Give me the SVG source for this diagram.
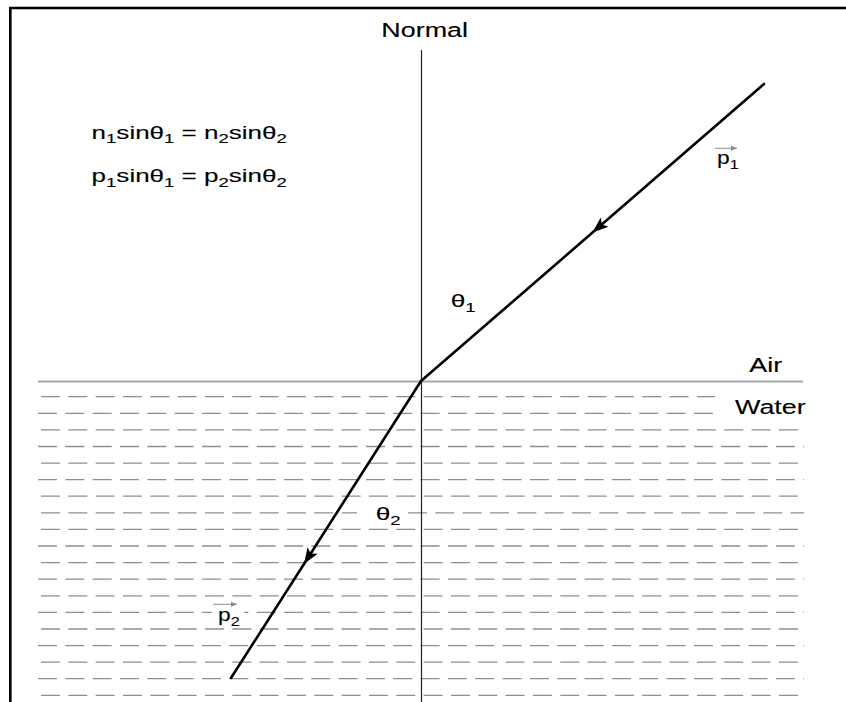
<svg xmlns="http://www.w3.org/2000/svg" width="846" height="702" viewBox="0 0 846 702">
<defs>
<style>
text{font-family:"Liberation Sans",Arial,sans-serif;fill:#000;stroke:#000;stroke-width:0.12}
.t{font-size:19.5px}
.eq{font-size:19px}
.lb{font-size:19px}
.pl{font-size:19px}
.sb{font-size:13.5px}
.row{stroke:#8e8e8e;stroke-width:1.3;stroke-dasharray:19 8.33;fill:none}
.ray{stroke:#000;stroke-width:2.6;fill:none;stroke-linecap:round;marker-mid:url(#ah)}
.vec{stroke:#8a8a8a;stroke-width:1;fill:none;marker-end:url(#sa)}
</style>
<marker id="ah" viewBox="-17 -7 18 14" refX="0" refY="0" markerWidth="18" markerHeight="14" markerUnits="userSpaceOnUse" orient="auto">
<path d="M0,0 L-16,-6 L-12.5,0 L-16,6 Z" fill="#000"/>
</marker>
<marker id="sa" viewBox="-7 -3 8 6" refX="0" refY="0" markerWidth="8" markerHeight="6" markerUnits="userSpaceOnUse" orient="auto">
<path d="M0,0 L-6,-2.5 L-6,2.5 Z" fill="#8a8a8a"/>
</marker>
</defs>
<rect width="846" height="702" fill="#fff"/>
<g id="frame"><path d="M10.3,702 V8 H846" stroke="#000" stroke-width="2.6" fill="none"/></g>
<g id="water">
<line x1="38" y1="381.5" x2="803" y2="381.5" stroke="#a8a8a8" stroke-width="2"/>
<line class="row" x1="41" y1="396.7" x2="715" y2="396.7"/>
<line class="row" x1="38" y1="413.3" x2="714" y2="413.3"/>
<line class="row" x1="41" y1="429.9" x2="804" y2="429.9"/>
<line class="row" x1="38" y1="446.5" x2="804" y2="446.5"/>
<line class="row" x1="41" y1="463.1" x2="804" y2="463.1"/>
<line class="row" x1="38" y1="479.7" x2="804" y2="479.7"/>
<line class="row" x1="41" y1="496.2" x2="804" y2="496.2"/>
<line class="row" x1="41" y1="512.8" x2="357" y2="512.8"/>
<line class="row" x1="408" y1="512.8" x2="804" y2="512.8"/>
<line class="row" x1="41" y1="529.4" x2="804" y2="529.4"/>
<line class="row" x1="38" y1="546.0" x2="804" y2="546.0"/>
<line class="row" x1="41" y1="562.6" x2="804" y2="562.6"/>
<line class="row" x1="38" y1="579.2" x2="804" y2="579.2"/>
<line class="row" x1="41" y1="595.8" x2="804" y2="595.8"/>
<line class="row" x1="38" y1="612.4" x2="212" y2="612.4"/>
<line class="row" x1="244" y1="612.4" x2="804" y2="612.4" stroke-dashoffset="14.7"/>
<line class="row" x1="41" y1="629.0" x2="804" y2="629.0"/>
<line class="row" x1="38" y1="645.6" x2="804" y2="645.6"/>
<line class="row" x1="41" y1="662.1" x2="804" y2="662.1"/>
<line class="row" x1="38" y1="678.7" x2="804" y2="678.7"/>
<line class="row" x1="41" y1="695.3" x2="804" y2="695.3"/>
</g>
<g id="normal"><line x1="421.5" y1="50" x2="421.5" y2="702" stroke="#222" stroke-width="1.2"/></g>
<g id="connectors">
<polyline id="incident" class="ray" points="764,84 592.5,232.6 421,381"/>
<polyline id="refracted" class="ray" points="421,381 304,564 231,678"/>
<line class="vec" x1="715" y1="148.3" x2="737" y2="148.3"/>
<line class="vec" x1="213" y1="604.3" x2="237" y2="604.3"/>
</g>
<g id="label-normal"><text class="t" transform="translate(381.3,37.3) scale(1.38,1)">Normal</text></g>
<g id="label-air"><text class="t" transform="translate(749.3,371.7) scale(1.38,1)">Air</text></g>
<g id="label-water"><text class="t" transform="translate(735,414) scale(1.38,1)">Water</text></g>
<g id="equations">
<text class="eq" transform="translate(91.6,138.5) scale(1.37,1)">n<tspan class="sb" dy="4.5">1</tspan><tspan dy="-4.5">sinθ</tspan><tspan class="sb" dy="4.5">1</tspan><tspan dy="-4.5"> = n</tspan><tspan class="sb" dy="4.5">2</tspan><tspan dy="-4.5">sinθ</tspan><tspan class="sb" dy="4.5">2</tspan></text>
<text class="eq" transform="translate(91.6,182) scale(1.37,1)">p<tspan class="sb" dy="4.5">1</tspan><tspan dy="-4.5">sinθ</tspan><tspan class="sb" dy="4.5">1</tspan><tspan dy="-4.5"> = p</tspan><tspan class="sb" dy="4.5">2</tspan><tspan dy="-4.5">sinθ</tspan><tspan class="sb" dy="4.5">2</tspan></text>
</g>
<g id="label-theta1"><text class="lb" transform="translate(450.7,306.7) scale(1.38,1)">θ<tspan class="sb" dy="5.5">1</tspan></text></g>
<g id="label-theta2"><text class="lb" transform="translate(375.7,520) scale(1.38,1)">θ<tspan class="sb" dy="5">2</tspan></text></g>
<g id="label-p1"><text class="pl" transform="translate(717,164) scale(1.2,1)">p<tspan class="sb" dy="5">1</tspan></text></g>
<g id="label-p2"><text class="pl" transform="translate(218,621) scale(1.2,1)">p<tspan class="sb" dy="5">2</tspan></text></g>
</svg>
